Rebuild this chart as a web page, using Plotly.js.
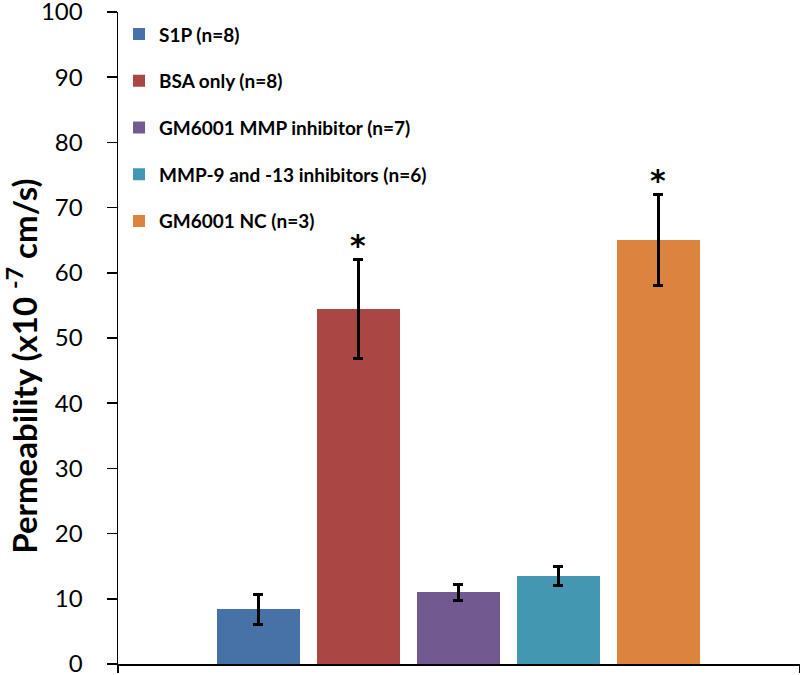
<!DOCTYPE html>
<html>
<head>
<meta charset="utf-8">
<script src="https://cdn.plot.ly/plotly-3.0.1.min.js"></script>
<style>html,body{margin:0;padding:0;background:#fff;}#chart{width:800px;height:675px;}</style>
</head>
<body>
<div id="chart"></div>
<script>
const seriesNames = ['S1P (n=8)', 'BSA only (n=8)', 'GM6001 MMP inhibitor (n=7)', 'MMP-9 and -13 inhibitors (n=6)', 'GM6001 NC (n=3)'];
const values = [8.4, 54.4, 11.0, 13.5, 65.0];
const errors = [2.3, 7.6, 1.2, 1.5, 7.0];
const significant = [false, true, false, false, true];
const colors = ['#4672A8', '#A94745', '#725A90', '#4497B0', '#DB843E'];
const yTicks = [0, 10, 20, 30, 40, 50, 60, 70, 80, 90, 100];
const yTitle = 'Permeability (x10 <sup>-7</sup> cm/s)';

const xRange = [-1.40, 5.42];

const traces = seriesNames.map((name, i) => ({
  type: 'bar',
  name: '<b>' + name + '</b>',
  legendgroup: 'g' + i,
  x: [i],
  y: [values[i]],
  width: 0.83,
  marker: {color: colors[i]},
  error_y: {type: 'data', array: [errors[i]], visible: true, color: '#000', thickness: 3, width: 5},
  hoverinfo: 'skip'
}));

const annotations = [];
significant.forEach((s, i) => {
  if (s) annotations.push({
    x: i, y: values[i] + errors[i], xref: 'x', yref: 'y',
    text: '<b>*</b>', showarrow: false, yanchor: 'bottom', yshift: -5,
    font: {family: 'DejaVu Sans', size: 30, color: '#000'}
  });
});

const layout = {
  width: 800, height: 675,
  margin: {l: 118, r: 0, t: 12, b: 11},
  paper_bgcolor: '#fff', plot_bgcolor: '#fff',
  font: {family: 'Lato', color: '#000'},
  showlegend: true,
  legend: {
    x: 0.0015, y: 0.995, xanchor: 'left', yanchor: 'top',
    traceorder: 'grouped', tracegroupgap: 19,
    font: {family: 'Lato', size: 19, color: '#000'},
    bgcolor: 'rgba(0,0,0,0)'
  },
  xaxis: {
    range: xRange, showgrid: false, zeroline: false,
    showline: true, linecolor: '#000', linewidth: 1.5,
    ticks: 'outside', tickvals: xRange, ticklen: 7, tickwidth: 1.5, tickcolor: '#000',
    showticklabels: false, fixedrange: true
  },
  yaxis: {
    range: [0, 100], tickvals: yTicks, showgrid: false, zeroline: false,
    showline: true, linecolor: '#000', linewidth: 1.5,
    ticks: 'outside', ticklen: 10, tickwidth: 1.5, tickcolor: '#000',
    ticklabelstandoff: 19, ticklabeloverflow: 'allow',
    tickfont: {family: 'Lato', size: 24, color: '#000'},
    title: {text: '<b>' + yTitle + '\u00A0\u00A0\u00A0\u00A0\u00A0\u00A0\u00A0</b>', font: {family: 'Lato', size: 33, color: '#000'}, standoff: 6},
    fixedrange: true
  },
  annotations: annotations,
  bargap: 0
};

Plotly.newPlot('chart', traces, layout, {displayModeBar: false, staticPlot: true});
</script>
</body>
</html>
